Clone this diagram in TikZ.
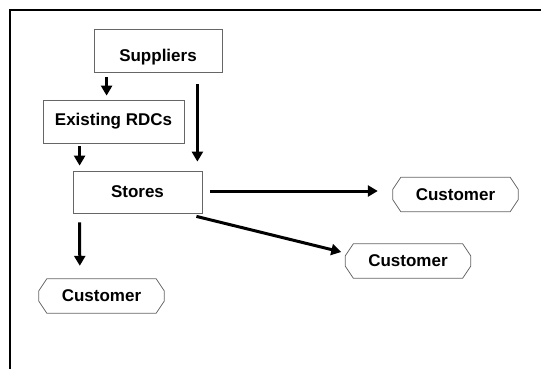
\documentclass[tikz,border=0pt]{standalone}
\usepackage{fontspec}
\setmainfont{Liberation Sans}
\usetikzlibrary{arrows.meta}

\begin{document}
\begin{tikzpicture}[x=1pt, y=-1pt, >={Triangle[length=10pt,width=11pt]},
    box/.style={draw=black!60, line width=0.8pt, inner sep=0pt,
      font=\fontsize{17}{20}\selectfont\bfseries},
    custbox/.style={inner sep=0pt, minimum width=125pt, minimum height=34pt,
      font=\fontsize{17}{20}\selectfont\bfseries,
      append after command={\pgfextra{
        \draw[draw=black!60, line width=0.8pt]
          ([xshift=8pt]\tikzlastnode.north west) -- ([xshift=-8pt]\tikzlastnode.north east)
          -- ([yshift=-12pt]\tikzlastnode.north east) -- ([yshift=12pt]\tikzlastnode.south east)
          -- ([xshift=-8pt]\tikzlastnode.south east) -- ([xshift=8pt]\tikzlastnode.south west)
          -- ([yshift=12pt]\tikzlastnode.south west) -- ([yshift=-12pt]\tikzlastnode.north west)
          -- cycle;}}},
    flow/.style={->, line width=3pt}]

                \useasboundingbox (0,0) rectangle (541,369);

                % Frame
                \draw[line width=1.6pt] (10,369) -- (10,10) -- (541,10);

                % Boxes
                \node[box, minimum width=128pt, minimum height=43pt, text height=22pt, text depth=0pt] (sup) at (158,50.5) {Suppliers};
                \node[box, minimum width=141pt, minimum height=43pt] (rdc) at (113.5,121.5) {Existing RDCs};
                \node[box, minimum width=129pt, minimum height=42pt] (sto) at (137.5,192) {Stores};

                % Customers
                \node[custbox] (cuA) at (455.5,194.5) {Customer};
                \node[custbox] (cuB) at (408,261) {Customer};
                \node[custbox] (cuC) at (101.5,296) {Customer};

                % Flows
                \draw[flow] ([xshift=13pt,yshift=-5pt]sup.south west) -- ([xshift=64pt,yshift=4pt]rdc.north west);
                \draw[flow] ([xshift=-25pt,yshift=-12pt]sup.south east) -- ([xshift=-5pt,yshift=9pt]sto.north east);
                \draw[flow] ([xshift=37pt,yshift=-3pt]rdc.south west) -- ([xshift=7pt,yshift=5pt]sto.north west);
                \draw[flow] ([xshift=8pt,yshift=1pt]sto.east) -- ([xshift=-15pt,yshift=1pt]sto.east -| cuA.west);
                \draw[flow] ([xshift=-6pt,yshift=-3pt]sto.south east) -- ([xshift=-4pt,yshift=9pt]cuB.west);
                \draw[flow] ([xshift=7pt,yshift=-9pt]sto.south west) -- ([xshift=41pt,yshift=13pt]cuC.north west);

            \end{tikzpicture}
\end{document}
